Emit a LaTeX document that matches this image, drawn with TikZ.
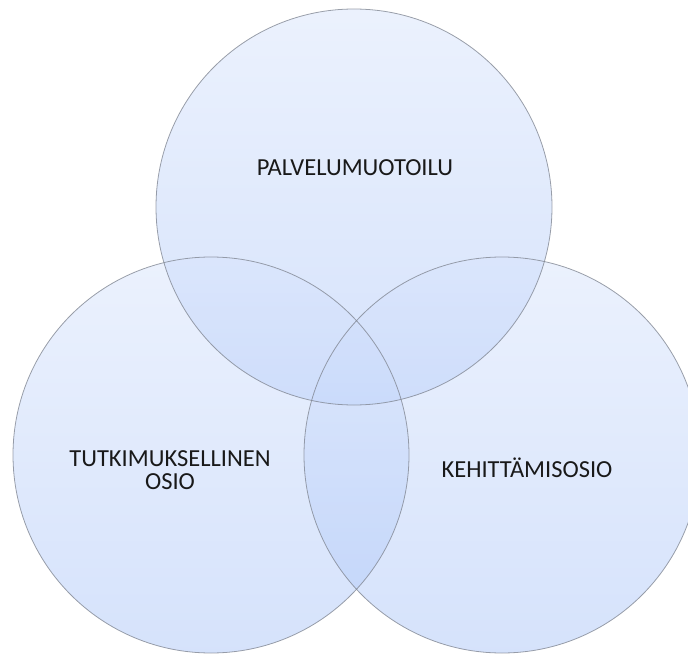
\documentclass[tikz,border=0pt]{standalone}
\usepackage{fontspec}
\setmainfont{Carlito}
\definecolor{ctop}{RGB}{216,228,252}
\definecolor{cbot}{RGB}{172,198,248}
\definecolor{cline}{RGB}{130,136,148}
\tikzset{
  vennfill/.style={top color=ctop, bottom color=cbot, fill opacity=0.5, draw=none},
  vennline/.style={draw=cline, line width=0.8pt, draw opacity=0.8},
  lbl/.style={font=\fontsize{24.5}{23.5}\selectfont, text=black!90, align=center, inner sep=0pt}
}
\begin{document}
\begin{tikzpicture}[x=1pt,y=-1pt]
\useasboundingbox (0,0) rectangle (688,655);
\coordinate (ct) at (354,207);
\coordinate (cl) at (211,455);
\coordinate (cr) at (502,455);
\shade[vennfill] (ct) circle[radius=198];
\shade[vennfill] (cl) circle[radius=198];
\shade[vennfill] (cr) circle[radius=198];
\draw[vennline] (ct) circle[radius=198];
\draw[vennline] (cl) circle[radius=198];
\draw[vennline] (cr) circle[radius=198];
\node[lbl] (t) at (355,168) {PALVELUMUOTOILU};
\node[lbl] (l) at (170,470) {TUTKIMUKSELLINEN\\OSIO};
\node[lbl] (r) at (527,468) {KEHITTÄMISOSIO};
\end{tikzpicture}
\end{document}
